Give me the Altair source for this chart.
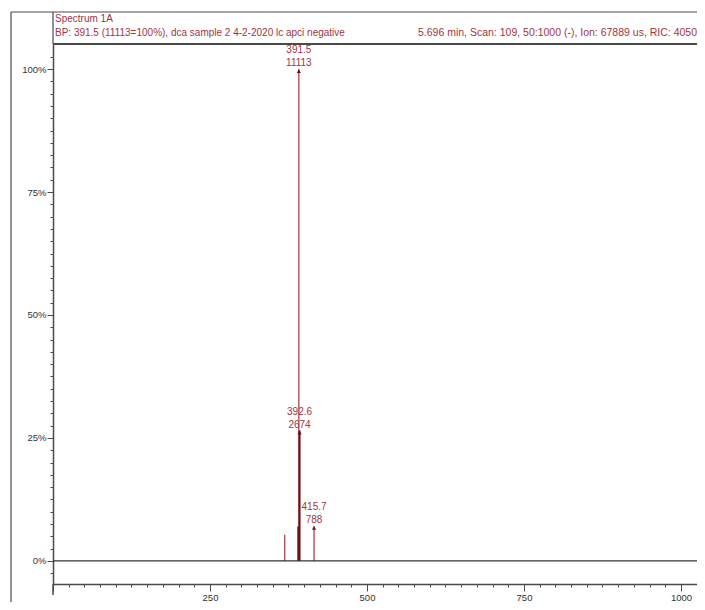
import altair as alt
import pandas as pd

# ---- data ----
peak_mz = [369.0, 390.6, 391.5, 392.6, 415.7]
peak_pct = [5.3, 7.0, 100.0, 26.5, 7.1]

label_mz = [391.5, 392.6, 415.7]
label_pct = [100.0, 26.5, 7.1]
label_mass = ["391.5", "392.6", "415.7"]
label_counts = ["11113", "2674", "788"]

header_title = ["Spectrum 1A"]
header_left = ["BP: 391.5 (11113=100%), dca sample 2 4-2-2020 lc apci negative"]
header_right = ["5.696 min, Scan: 109, 50:1000 (-), Ion: 67889 us, RIC: 4050"]

W, H = 644, 540
RED = "#a3343f"
DARK = "#6e0f16"
FRAME = "#4a4a4a"
FONT = "Liberation Sans"

peaks = pd.DataFrame({"mz": peak_mz, "pct": peak_pct})
labels = pd.DataFrame({"mz": label_mz, "pct": label_pct,
                       "mass": label_mass, "counts": label_counts})

x_scale = alt.Scale(domain=[0, 1025.5], nice=False, zero=False)
y_scale = alt.Scale(domain=[-4.7, 105.1], nice=False, zero=False)

x_axis = alt.Axis(
    values=[25 * i for i in range(42)],
    labelExpr="datum.value % 250 === 0 && datum.value > 0 ? '' + datum.value : ''",
    tickSize={"condition": {"test": "datum.value % 250 === 0", "value": 7}, "value": 3},
    labelPadding=1, labelOverlap=False, labelFlush=False,
    grid=False, title=None, orient="bottom",
)
y_axis = alt.Axis(
    values=[-2.5 + 2.5 * i for i in range(43)],
    labelExpr="datum.value % 25 === 0 ? datum.value + '%' : ''",
    tickSize={"condition": {"test": "datum.value % 25 === 0", "value": 6}, "value": 3},
    labelPadding=1, labelOverlap=False, labelFlush=False,
    grid=False, title=None, orient="left",
)


def X(f):
    return alt.X(f, scale=x_scale, axis=x_axis)


def Y(f):
    return alt.Y(f, scale=y_scale, axis=y_axis)


dark_test = "datum.mz > 390 && datum.mz < 393 && datum.pct < 100"

sticks = alt.Chart(peaks).mark_rule().encode(
    x=X("mz:Q"),
    y=Y("pct:Q"),
    y2=alt.datum(0),
    color=alt.condition(dark_test, alt.value(DARK), alt.value(RED)),
    strokeWidth=alt.condition(dark_test, alt.value(2), alt.value(1.2)),
    order=alt.Order("pct:Q", sort="descending"),
)

baseline = alt.Chart(pd.DataFrame({"v": [0]})).mark_rule(
    color="#333333", strokeWidth=1.2
).encode(y=Y("v:Q"), x=alt.value(0), x2=alt.value(W))

base_lab = alt.Chart(labels)
arrows = base_lab.mark_point(shape="triangle-up", filled=True, size=18,
                             color=DARK, opacity=1, yOffset=2).encode(
    x=X("mz:Q"), y=Y("pct:Q"))
txt_mass = base_lab.mark_text(color=RED, font=FONT, fontSize=10, dy=-19,
                              baseline="middle").encode(
    x=X("mz:Q"), y=Y("pct:Q"), text="mass:N")
txt_counts = base_lab.mark_text(color=RED, font=FONT, fontSize=10, dy=-6,
                                baseline="middle").encode(
    x=X("mz:Q"), y=Y("pct:Q"), text="counts:N")

# ---- frame decoration (outer box, header box, plot top border) ----
one = alt.Data(values=[{}])
outer_left = alt.Chart(one).mark_rule(color=FRAME, strokeWidth=1.2).encode(
    x=alt.value(-42), y=alt.value(-32), y2=alt.value(570))
outer_top = alt.Chart(one).mark_rule(color=FRAME, strokeWidth=1.2).encode(
    x=alt.value(-42), x2=alt.value(W + 5), y=alt.value(-32))
header_sep = alt.Chart(one).mark_rule(color=FRAME, strokeWidth=1.2).encode(
    x=alt.value(0), y=alt.value(-32), y2=alt.value(0))
plot_top = alt.Chart(one).mark_rule(color=FRAME, strokeWidth=2).encode(
    x=alt.value(0), x2=alt.value(W + 5), y=alt.value(0))
yaxis_ext = alt.Chart(one).mark_rule(color=FRAME, strokeWidth=1.5).encode(
    x=alt.value(0), y=alt.value(H), y2=alt.value(H + 11))

hdr = dict(color=RED, font=FONT, fontSize=10, align="left", baseline="middle")
h1 = alt.Chart(pd.DataFrame({"t": header_title})).mark_text(**hdr).encode(
    x=alt.value(2), y=alt.value(-25), text="t:N")
h2 = alt.Chart(pd.DataFrame({"t": header_left})).mark_text(**hdr).encode(
    x=alt.value(2), y=alt.value(-11), text="t:N")
h3 = alt.Chart(pd.DataFrame({"t": header_right})).mark_text(
    **{**hdr, "fontSize": 10.5}).encode(
    x=alt.value(365), y=alt.value(-11), text="t:N")

chart = alt.layer(
    sticks, baseline, arrows, txt_mass, txt_counts,
    outer_left, outer_top, header_sep, plot_top, yaxis_ext, h1, h2, h3,
).properties(
    width=W, height=H,
    autosize=alt.AutoSizeParams(type="none"),
    padding={"left": 45, "top": 36, "right": 0, "bottom": 18},
    background="white",
).configure_view(
    strokeWidth=0,
).configure_axis(
    domainColor=FRAME, domainWidth=1.5, tickColor=FRAME, tickWidth=1,
    labelColor="#333333", labelFont=FONT, labelFontSize=9.5,
)

chart.save("out.html", embed_options={"renderer": "svg", "actions": False})
